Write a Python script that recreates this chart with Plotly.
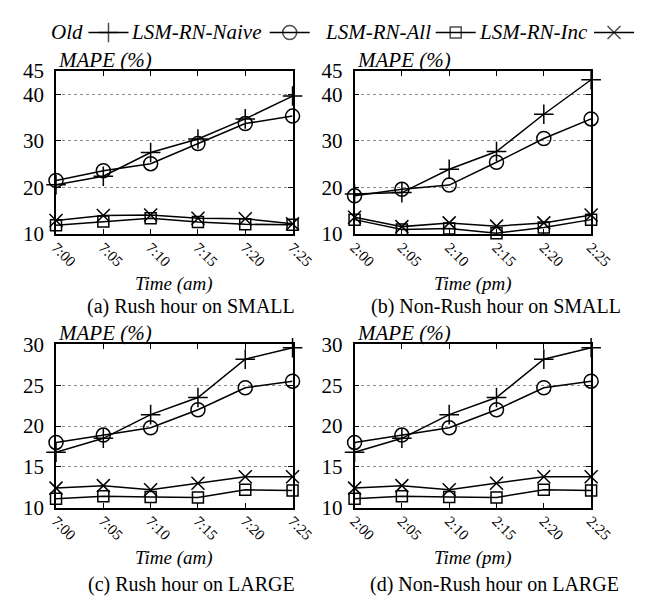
import plotly.graph_objects as go

# ---- data ----
times_am = ["7:00", "7:05", "7:10", "7:15", "7:20", "7:25"]
times_pm = ["2:00", "2:05", "2:10", "2:15", "2:20", "2:25"]
series_names = ["Old", "LSM-RN-Naive", "LSM-RN-All", "LSM-RN-Inc"]

small_rush_old = [20.6, 22.4, 27.5, 30.4, 34.7, 39.6]
small_rush_naive = [21.5, 23.6, 25.1, 29.4, 33.7, 35.3]
small_rush_all = [11.9, 12.7, 13.4, 12.6, 12.1, 12.0]
small_rush_inc = [12.9, 14.0, 14.1, 13.4, 13.3, 12.2]

small_nonrush_old = [18.6, 18.9, 23.9, 27.7, 35.7, 43.1]
small_nonrush_naive = [18.2, 19.6, 20.5, 25.4, 30.5, 34.7]
small_nonrush_all = [13.1, 11.0, 11.2, 10.2, 11.4, 13.1]
small_nonrush_inc = [13.6, 11.6, 12.4, 11.7, 12.4, 14.1]

large_rush_old = [16.8, 18.5, 21.4, 23.5, 28.2, 29.6]
large_rush_naive = [18.0, 18.9, 19.8, 22.0, 24.7, 25.5]
large_rush_all = [11.1, 11.4, 11.3, 11.25, 12.2, 12.1]
large_rush_inc = [12.4, 12.7, 12.2, 13.0, 13.8, 13.8]

large_nonrush_old = [16.8, 18.5, 21.4, 23.5, 28.2, 29.6]
large_nonrush_naive = [18.0, 18.9, 19.8, 22.0, 24.7, 25.5]
large_nonrush_all = [11.1, 11.4, 11.3, 11.25, 12.2, 12.1]
large_nonrush_inc = [12.4, 12.7, 12.2, 13.0, 13.8, 13.8]

small_yticks = [10, 20, 30, 40, 45]
large_yticks = [10, 15, 20, 25, 30]
captions = ["(a) Rush hour on SMALL", "(b) Non-Rush hour on SMALL",
            "(c) Rush hour on LARGE", "(d) Non-Rush hour on LARGE"]
xtitles = ["Time (am)", "Time (pm)", "Time (am)", "Time (pm)"]

# ---- styling ----
W, H = 650, 600
FONT = "Liberation Serif"
symbols = ["cross-thin-open", "circle-open", "square-open", "x-thin-open"]
msizes = [14, 14, 11, 13]

def px(x):
    return x / W

def py(y):
    return 1 - y / H

# panel geometry in pixels (left, right, top, bottom)
panels = [
    (43, 291, 53, 223),
    (356, 604, 53, 223),
    (43, 291, 338, 508),
    (356, 604, 338, 508),
]
panel_data = [
    (times_am, [small_rush_old, small_rush_naive, small_rush_all, small_rush_inc], small_yticks, [10, 45]),
    (times_pm, [small_nonrush_old, small_nonrush_naive, small_nonrush_all, small_nonrush_inc], small_yticks, [10, 45]),
    (times_am, [large_rush_old, large_rush_naive, large_rush_all, large_rush_inc], large_yticks, [10, 30]),
    (times_pm, [large_nonrush_old, large_nonrush_naive, large_nonrush_all, large_nonrush_inc], large_yticks, [10, 30]),
]
xtitle_y = [275, 275, 560, 560]
caption_pos = [(185, 298), (504, 298), (185, 588), (503, 588)]

fig = go.Figure()
layout = dict(
    width=W, height=H, margin=dict(l=0, r=0, t=0, b=0),
    paper_bgcolor="white", plot_bgcolor="white",
    showlegend=False, font=dict(family=FONT, color="black"),
)
annotations = []

for i, ((l, r, t, b), (cats, ys, yt, yr)) in enumerate(zip(panels, panel_data)):
    n = i + 1
    xa = "x" if n == 1 else f"x{n}"
    ya = "y" if n == 1 else f"y{n}"
    for k in range(4):
        fig.add_trace(go.Scatter(
            x=cats, y=ys[k], xaxis=xa, yaxis=ya, mode="lines+markers",
            name=series_names[k], cliponaxis=False,
            line=dict(color="black", width=1.5),
            marker=dict(symbol=symbols[k], size=msizes[k], color="black",
                        line=dict(color="black", width=1.5)),
        ))
    layout["xaxis" if n == 1 else f"xaxis{n}"] = dict(
        domain=[px(l), px(r)], anchor=ya, type="category", range=[0, 5],
        showline=True, linecolor="black", linewidth=1.5, mirror="ticks",
        ticks="inside", ticklen=5, tickcolor="black", tickangle=45,
        showgrid=False, zeroline=False, ticklabelstandoff=-3,
        tickfont=dict(family=FONT, size=15, color="black"),
    )
    layout["yaxis" if n == 1 else f"yaxis{n}"] = dict(
        domain=[py(b), py(t)], anchor=xa, range=yr, tickvals=yt,
        showline=True, linecolor="black", linewidth=1.5, mirror="ticks",
        ticks="inside", ticklen=5, tickcolor="black",
        showgrid=True, gridcolor="#8c8c8c", griddash="dot", gridwidth=1,
        zeroline=False, ticklabelstandoff=6,
        tickfont=dict(family=FONT, size=21, color="black"),
    )
    annotations.append(dict(
        text="<i>MAPE (%)</i>", xref="paper", yref="paper",
        x=px(l), y=py(t), xanchor="left", yanchor="bottom", showarrow=False,
        font=dict(family=FONT, size=21, color="black"), yshift=-3,
    ))
    annotations.append(dict(
        text=f"<i>{xtitles[i]}</i>", xref="paper", yref="paper",
        x=px((l + r) / 2), y=py(xtitle_y[i]), xanchor="center", yanchor="middle",
        showarrow=False, font=dict(family=FONT, size=19, color="black"),
    ))
    cx, cy = caption_pos[i]
    annotations.append(dict(
        text=captions[i], xref="paper", yref="paper",
        x=px(cx), y=py(cy), xanchor="center", yanchor="middle",
        showarrow=False, font=dict(family=FONT, size=20, color="black"),
    ))

# ---- custom legend (label followed by key sample, gnuplot style) ----
legend_text_right = [73, 260, 438, 603]
legend_key_center = [98, 288, 462, 628]
legend_y = 13
for k in range(4):
    annotations.append(dict(
        text=f"<i>{series_names[k]}</i>", xref="paper", yref="paper",
        x=px(legend_text_right[k]), y=py(legend_y), xanchor="right", yanchor="middle",
        showarrow=False, font=dict(family=FONT, size=21, color="black"),
    ))
    c = legend_key_center[k]
    fig.add_trace(go.Scatter(
        x=[c - 21, c, c + 21], y=[0.5, 0.5, 0.5], xaxis="x5", yaxis="y5",
        mode="lines+markers", cliponaxis=False, hoverinfo="skip",
        line=dict(color="black", width=1.5),
        marker=dict(symbol=symbols[k], size=[0, msizes[k], 0], color="black",
                    line=dict(color="black", width=1.5)),
    ))
layout["xaxis5"] = dict(domain=[0, 1], range=[0, W], anchor="y5", visible=False, fixedrange=True)
layout["yaxis5"] = dict(domain=[py(legend_y + 10), py(legend_y - 10)], range=[0, 1],
                        anchor="x5", visible=False, fixedrange=True)

layout["annotations"] = annotations
fig.update_layout(**layout)
fig.write_html("out.html")
